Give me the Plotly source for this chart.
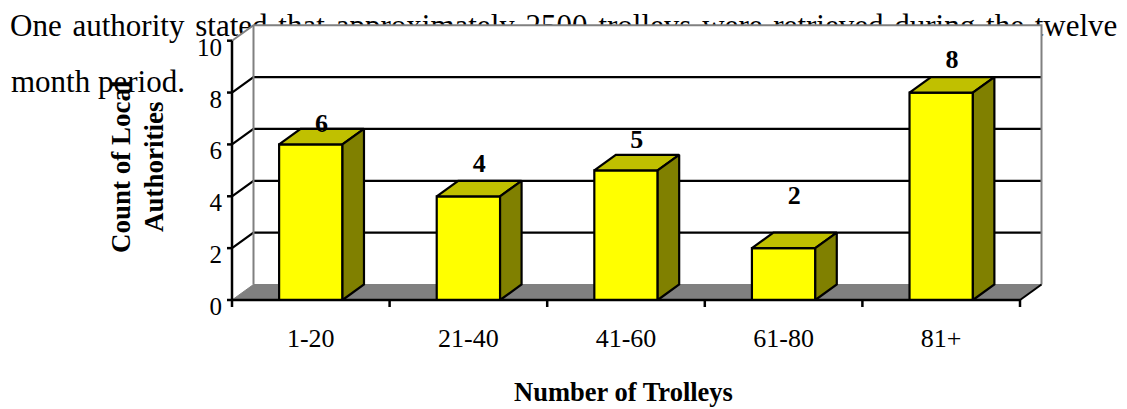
import plotly.graph_objects as go

# ---------------- data ----------------
categories = ["1-20", "21-40", "41-60", "61-80", "81+"]
counts = [6, 4, 5, 2, 8]
y_tick_values = [0, 2, 4, 6, 8, 10]
y_tick_labels = ["0", "2", "4", "6", "8", "10"]
x_axis_title = "Number of Trolleys"
y_axis_title = ["Count of Local", "Authorities"]
paragraph_line1 = "One authority stated that approximately 2500 trolleys were retrieved during the twelve"
paragraph_line2 = "month period."

# ---------------- style / layout ----------------
label_lift = [0.81, 1.27, 1.20, 2.05, 1.28]   # data-label offset above each bar (value units)
W, H = 1127, 409
PX_LEFT, PX_RIGHT = 232, 1020     # pixel x of the plot front edges
PX_ZERO, PX_TOP = 300, 40.7       # pixel y of value 0 and value YMAX
YMAX = 10
n = len(categories)
x_lo, x_hi = -0.5, n - 0.5
ppx = (PX_RIGHT - PX_LEFT) / (x_hi - x_lo)
ppy = (PX_ZERO - PX_TOP) / YMAX
x_range = [x_lo - PX_LEFT / ppx, x_lo + (W - PX_LEFT) / ppx]
y_range = [-(H - PX_ZERO) / ppy, PX_ZERO / ppy]


def X(px):
    return x_lo + (px - PX_LEFT) / ppx


def Y(py):
    return (PX_ZERO - py) / ppy


DX = 21.5 / ppx        # depth offset of the 3-D box
DY = 15.5 / ppy
BW = 0.402             # bar width (category units)

SERIF = "Liberation Serif, Times New Roman, serif"
YELLOW = "#FFFF00"
TOP = "#C0C000"
SIDE = "#808000"
GREY = "#808080"

# Times / Liberation Serif advance widths (1/1000 em) for justification of the text line
TW = {' ': 250, '.': 250, 'O': 722, 'n': 500, 'e': 444, 'a': 444, 'u': 500, 't': 278,
      'h': 500, 'o': 500, 'r': 333, 'i': 278, 'y': 500, 's': 389, 'd': 500, 'p': 500,
      'x': 500, 'm': 778, 'l': 278, '2': 500, '5': 500, '0': 500, 'w': 722, 'v': 500,
      'g': 500}

fig = go.Figure()


def add_poly(xs, ys, fill, line_color="black", line_width=2.2):
    fig.add_trace(go.Scatter(
        x=list(xs) + [xs[0]], y=list(ys) + [ys[0]], mode="lines", fill="toself",
        fillcolor=fill, line=dict(color=line_color, width=line_width),
        hoverinfo="skip", showlegend=False))


def add_line(xs, ys, color="black", width=2):
    fig.add_trace(go.Scatter(
        x=xs, y=ys, mode="lines", line=dict(color=color, width=width),
        hoverinfo="skip", showlegend=False, connectgaps=False))


def add_text(xs, ys, texts, pos, size, bold=False, family=SERIF):
    fig.add_trace(go.Scatter(
        x=xs, y=ys, text=texts, mode="text", textposition=pos,
        textfont=dict(family=family, size=size, color="black",
                      weight="bold" if bold else "normal"),
        hoverinfo="skip", showlegend=False, cliponaxis=False))


# ---------------- paragraph text (behind the chart walls) ----------------
PF = 31
words = paragraph_line1.split(" ")
wwidths = [sum(TW[c] for c in w) / 1000 * PF for w in words]
start_px, end_px = 10, 1117.4
gap = (end_px - start_px - sum(wwidths)) / (len(words) - 1)
xs, cur = [], start_px
for ww in wwidths:
    xs.append(X(cur))
    cur += ww + gap
base1, base2 = 36, 91.5
add_text(xs, [Y(base1 - 0.25 * PF)] * len(words), words, "middle right", PF)
add_text([X(11)], [Y(base2 - 0.25 * PF)], [paragraph_line2], "middle right", PF)

# ---------------- walls ----------------
add_poly([x_lo, x_lo, x_lo + DX, x_hi + DX, x_hi + DX, x_hi],
         [0, YMAX, YMAX + DY, YMAX + DY, DY, 0], "white", "white", 0)

# grid lines on the side wall and back wall
gx, gy = [], []
for v in y_tick_values[1:-1]:
    gx += [x_lo, x_lo + DX, x_hi + DX, None]
    gy += [v, v + DY, v + DY, None]
add_line(gx, gy, "black", 2.2)

# wall edges (grey)
add_line([x_lo, x_lo + DX, x_hi + DX, x_hi + DX], [YMAX, YMAX + DY, YMAX + DY, DY], GREY, 2)
add_line([x_lo + DX, x_lo + DX], [YMAX + DY, DY], GREY, 2)

# floor
add_poly([x_lo, x_lo + DX, x_hi + DX, x_hi], [0, DY, DY, 0], GREY, GREY, 1)
add_line([x_hi, x_hi + DX], [0, DY], "black", 2)

# ---------------- 3-D bars ----------------
for i, v in enumerate(counts):
    l, r = i - BW / 2, i + BW / 2
    add_poly([l, r, r, l], [0, 0, v, v], YELLOW)
    add_poly([l, l + DX, r + DX, r], [v, v + DY, v + DY, v], TOP)
    add_poly([r, r + DX, r + DX, r], [0, DY, v + DY, v], SIDE)

# ---------------- axes ----------------
add_line([x_lo, x_lo], [0, YMAX], "black", 2.5)
add_line([x_lo, x_hi], [0, 0], "black", 2.5)
tx, ty = [], []
for v in y_tick_values:
    tx += [x_lo - 5 / ppx, x_lo, None]
    ty += [v, v, None]
for k in range(n + 1):
    b = x_lo + k
    tx += [b, b, None]
    ty += [0, -7 / ppy, None]
add_line(tx, ty, "black", 2.5)

# tick labels
YF = 25
add_text([X(222)] * len(y_tick_values),
         [v - (6.5 + 0.338 * YF - 0.25 * YF) / ppy for v in y_tick_values],
         y_tick_labels, "middle left", YF)
XF = 26
add_text(list(range(n)), [Y(346.5 - 0.25 * XF)] * n, categories, "middle center", XF)

# data labels
LF = 26
add_text([i + DX / 2 for i in range(n)],
         [v + label_lift[i] - (0.338 * LF - 0.25 * LF) / ppy for i, v in enumerate(counts)],
         [str(v) for v in counts], "middle center", LF, bold=True)

# axis titles
TF = 26.5
add_text([(x_lo + x_hi) / 2 - 2.5 / ppx], [Y(401 - 0.25 * TF)], [x_axis_title],
         "middle center", TF, bold=True)

annots = []
for txt, cx in zip(y_axis_title, [121, 154]):
    annots.append(dict(x=X(cx), y=Y(167), xref="x", yref="y", text="<b>%s</b>" % txt,
                       textangle=-90, showarrow=False, xanchor="center", yanchor="middle",
                       font=dict(family=SERIF, size=27, color="black")))

fig.update_layout(
    width=W, height=H, margin=dict(l=0, r=0, t=0, b=0),
    paper_bgcolor="white", plot_bgcolor="white", showlegend=False,
    xaxis=dict(visible=False, range=x_range, fixedrange=True),
    yaxis=dict(visible=False, range=y_range, fixedrange=True),
    annotations=annots,
)

fig.write_html(
    "out.html",
    config={"displayModeBar": False},
    post_script=("document.body.style.margin='0';"
                 "document.body.style.overflow='hidden';"
                 "document.documentElement.style.overflow='hidden';"),
)
